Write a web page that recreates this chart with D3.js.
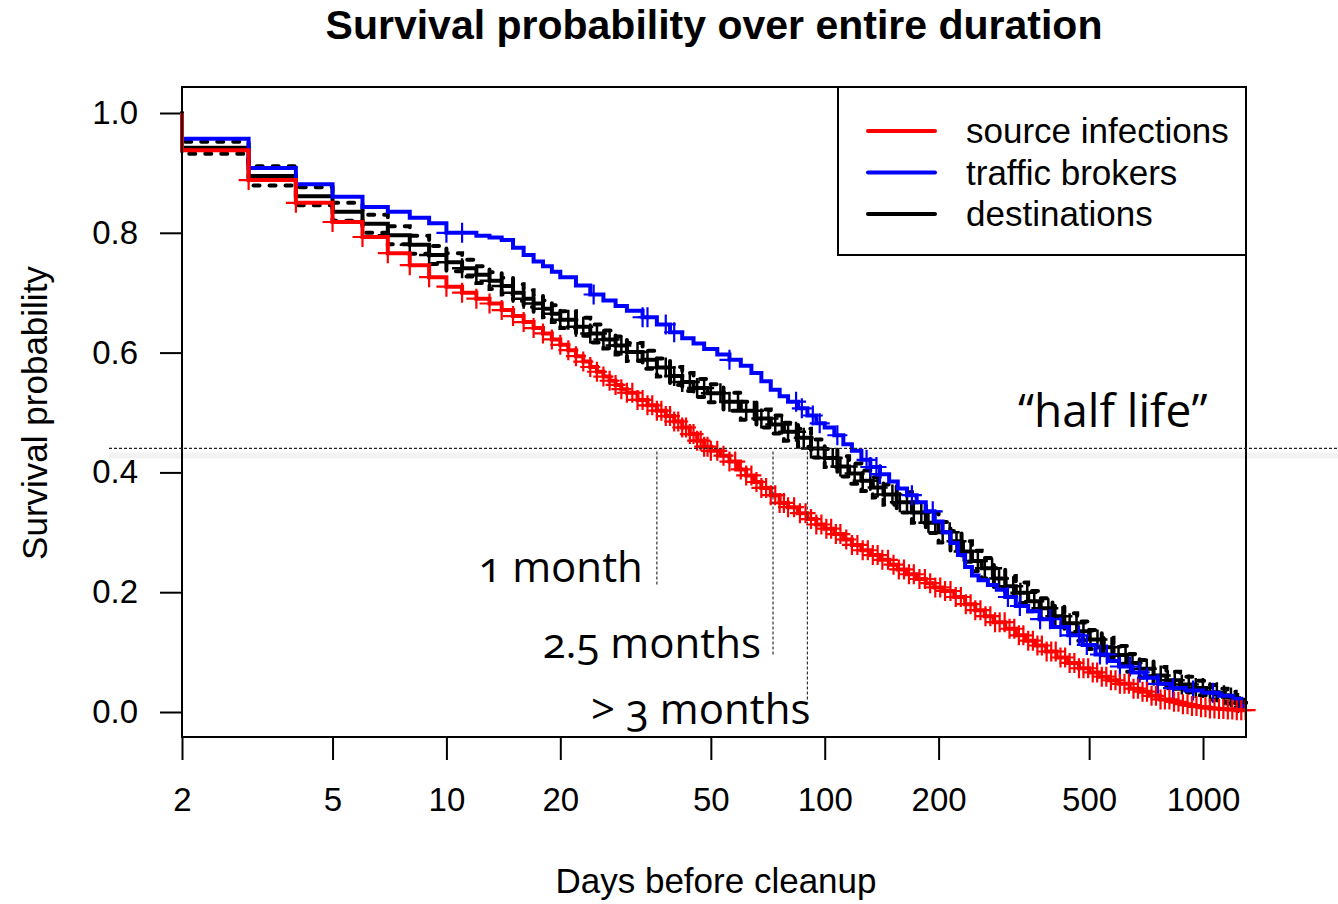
<!DOCTYPE html>
<html>
<head>
<meta charset="utf-8">
<script src="https://cdn.jsdelivr.net/npm/d3@7"></script>
<style>
  body { margin: 0; background: #fff; }
  svg text { font-family: "Liberation Sans", Arial, Helvetica, sans-serif; fill: #000; }
  .note { font-family: "Open Sans", "DejaVu Sans", sans-serif; font-variant-numeric: oldstyle-nums; }
</style>
</head>
<body>
<svg id="chart" width="1338" height="904"></svg>
<script>
// Kaplan-Meier estimates (day, survival)
const srcDays = [2,3,4,5,6,7,8,9,10,11,12,13,14,15,16,17,18,19,20,21,22,23,24,25,26,27,28,29,30,
  32,34,36,38,40,42,44,46,48,50,53,56,59,62,65,68,72,76,80,85,90,95,100,
  106,112,118,125,132,140,148,156,165,175,185,195,205,
  220,235,250,265,280,300,320,340,360,385,410,440,470,500,530,560,600,640,680,720,770,820,870,920,980,1040,1100,1160,1220,1280]
const srcSurv = [.938,.888,.850,.818,.793,.766,.746,.726,.710,.700,.690,.682,.671,.661,.651,.641,.632,.622,.613,.604,.594,.585,.576,.568,.560,.553,.546,.539,.533,
  .521,.512,.503,.494,.485,.475,.464,.453,.443,.436,.428,.418,.405,.395,.384,.374,.362,.349,.342,.332,.322,.313,.306,
  .297,.288,.279,.270,.262,.254,.246,.238,.230,.222,.215,.208,.202,
  .192,.180,.170,.160,.150,.139,.128,.119,.111,.101,.091,.082,.073,.066,.059,.053,.047,.039,.034,.027,.021,.017,.013,.010,.008,.006,.005,.004,.003,.003]
// censored times for source infections (very dense after ~3 weeks)
const srcCensor = [3,4,5,6,7,8,9,10,11,12,13,14,15,16,17,18,19,20,21,22,23,24,25,26,27,28,29,30,31,32,33,34,35,36,37,38,39,40,41,42,43,44,45,46,47,48,49,50,
  52,54,56,58,60,62,64,66,68,70,72,74,76,78,80,83,86,89,92,95,98,101,104,107,110,114,118,122,126,130,134,138,142,147,152,157,162,167,172,178,184,190,196,202,208,
  215,222,229,236,243,250,258,266,274,282,290,299,308,317,326,335,345,355,365,375,386,397,408,420,432,444,457,470,483,497,511,525,540,555,571,587,603,620,637,655,673,692,711,
  731,751,772,793,815,838,861,885,910,935,961,988,1015,1043,1072,1102,1132,1163,1195,1228,1262,1296]

const brkDays = [2,3,4,5,6,7,8,9,10,11,12,13,14,15,16,17,18,19,20,22,24,26,28,30,
  33,36,39,42,45,48,52,56,60,64,68,72,76,80,85,90,95,100,
  106,112,118,125,132,140,148,156,165,175,185,195,205,215,225,235,245,255,270,285,300,320,345,370,400,440,480,520,560,600,650,700,760,820,900,1000,1100,1200,1260]
const brkSurv = [.957,.908,.881,.860,.843,.835,.825,.816,.800,.800,.795,.792,.788,.775,.763,.752,.744,.735,.726,.712,.697,.687,.678,.670,
  .659,.647,.634,.624,.615,.606,.597,.588,.578,.566,.552,.538,.527,.518,.507,.495,.482,.475,
  .462,.447,.436,.421,.409,.397,.385,.373,.362,.350,.335,.318,.300,.282,.262,.242,.228,.220,.212,.204,.192,.177,.168,.155,.142,.128,.112,.096,.085,.076,.066,.057,.047,.040,.036,.032,.027,.022,.010]
const brkCensor = [10,11,24.5,33,34,38,40,56,84,87,93,97,108,129,132,137,140,170,193,305,328,371,394,420,445,470,493,534,557,603,641,680,711,760,833,941,1063]

const dstDays = [2,3,4,5,6,7,8,9,10,11,12,13,14,15,16,17,18,19,20,22,24,26,28,30,
  33,36,39,42,45,49,54,60,66,72,78,85,92,100,
  108,116,125,134,143,155,170,185,200,215,230,245,260,280,300,320,345,370,400,430,465,500,540,580,630,680,740,800,870,940,1020,1100,1160,1220,1280]
const dstSurv = [.942,.895,.861,.835,.815,.796,.780,.763,.751,.741,.730,.720,.711,.700,.690,.682,.673,.665,.655,.643,.632,.622,.612,.601,
  .588,.575,.561,.551,.541,.532,.518,.503,.490,.480,.468,.458,.440,.424,
  .410,.398,.386,.375,.363,.350,.333,.316,.300,.285,.268,.252,.240,.223,.210,.199,.185,.173,.160,.148,.135,.121,.108,.095,.082,.072,.061,.053,.046,.040,.033,.028,.024,.015,.008]
// half width of the dashed confidence band around destinations
const dstCI = [.010,.016,.015,.015,.015,.015,.015,.015,.015,.014,.014,.014,.014,.014,.014,.014,.014,.014,.014,
  .015,.015,.015,.015,.015,.015,.015,.015,.015,.015,.015,.015,.015,.015,.015,.015,.015,.015,.015,
  .017,.017,.017,.017,.017,.017,.017,.017,.017,.017,.017,.017,.017,.017,.017,.017,.017,.017,.017,.017,
  .016,.016,.016,.015,.015,.015,.014,.014,.013,.012,.012,.011,.010,.009,.008]
const dstCensor = [7,8,9,10,11,12,13,14,15,16,17,18,19,20,21,22,23,24,25,26,27,28,29,30,32,34,36,38,40,42,44,46,48,50,53,56,59,62,65,68,71,74,77,80,84,88,92,96,100,
  105,110,115,120,126,132,138,144,151,158,165,172,180,188,196,205,214,223,233,243,254,265,277,289,302,315,329,343,358,374,390,407,425,444,463,483,504,526,549,573,598,
  624,651,680,710,741,773,807,842,879,917,957,999,1043,1088,1136,1185,1237]

const endDay = 1300
const xTicks = [2,5,10,20,50,100,200,500,1000]
const yTicks = [0,0.2,0.4,0.6,0.8,1]
const legendLabels = ['source infections','traffic brokers','destinations']
const legendColors = ['#ff0000','#0000ff','#000000']

const halfLife = 0.44
const noteDays = [36,73,90]
const noteLabels = ['1 month','2.5 months','> 3 months']

const svg = d3.select('#chart')
const x = d3.scaleLog().domain([2,1299]).range([182,1246])
const y = d3.scaleLinear().domain([0,1]).range([712,113])

// title
svg.append('text')
  .attr('x',714).attr('y',39)
  .attr('text-anchor','middle')
  .attr('font-size',41).attr('font-weight','bold')
  .text('Survival probability over entire duration')

// axes
let ya = svg.append('g')
  .attr('transform','translate(182,0)')
  .call(d3.axisLeft(y).tickValues(yTicks).tickFormat(d3.format('.1f')).tickSize(22).tickPadding(22))
ya.select('.domain').remove()
ya.selectAll('line').attr('stroke','#000').attr('stroke-width',2)
ya.selectAll('text').attr('font-size',33).attr('font-family','"Liberation Sans", Arial, sans-serif')

let xa = svg.append('g')
  .attr('transform','translate(0,737)')
  .call(d3.axisBottom(x).tickValues(xTicks).tickFormat(d3.format('d')).tickSize(23).tickPadding(28))
xa.select('.domain').remove()
xa.selectAll('line').attr('stroke','#000').attr('stroke-width',2)
xa.selectAll('text').attr('font-size',33).attr('font-family','"Liberation Sans", Arial, sans-serif')

svg.append('text')
  .attr('x',716).attr('y',893)
  .attr('text-anchor','middle').attr('font-size',35)
  .text('Days before cleanup')

svg.append('text')
  .attr('transform','translate(47,413) rotate(-90)')
  .attr('text-anchor','middle').attr('font-size',35)
  .text('Survival probability')

// curves
let step = d3.line().x(d => x(d[0])).y(d => y(d[1])).curve(d3.curveStepAfter)
let stepPts = (days, surv) => {
  let pts = [[days[0],1]]
  days.forEach((d,i) => pts.push([d,surv[i]]))
  pts.push([endDay, surv[surv.length-1]])
  return pts
}
let survAt = (days, surv, t) => {
  let i = d3.bisectRight(days, t) - 1
  return i < 0 ? 1 : surv[i]
}
let cross = (g, pts, color, w) => {
  g.append('g').selectAll('path')
    .data(pts)
    .enter()
    .append('path')
    .attr('d', d => `M${x(d[0])-10},${y(d[1])}h20M${x(d[0])},${y(d[1])-10}v20`)
    .attr('stroke',color).attr('stroke-width',w).attr('fill','none')
}

let plot = svg.append('g')

// destinations with confidence band
let lo = dstSurv.map((s,i) => s - dstCI[i])
let hi = dstSurv.map((s,i) => s + dstCI[i])
;[lo,hi].forEach(b => {
  plot.append('path')
    .attr('d', step(stepPts(dstDays,b)))
    .attr('fill','none').attr('stroke','#000').attr('stroke-width',4)
    .attr('stroke-dasharray','6,10').attr('stroke-linecap','round')
})
plot.append('path')
  .attr('d', step(stepPts(dstDays,dstSurv)))
  .attr('fill','none').attr('stroke','#000').attr('stroke-width',4)
cross(plot, dstCensor.map(d => [d, survAt(dstDays,dstSurv,d)]), '#000', 2.5)

// traffic brokers
plot.append('path')
  .attr('d', step(stepPts(brkDays,brkSurv)))
  .attr('fill','none').attr('stroke','#0000ff').attr('stroke-width',4)
cross(plot, brkCensor.map(d => [d, survAt(brkDays,brkSurv,d)]), '#0000ff', 2.2)

// source infections
plot.append('path')
  .attr('d', step(stepPts(srcDays,srcSurv)))
  .attr('fill','none').attr('stroke','#ff0000').attr('stroke-width',4)
cross(plot, srcCensor.map(d => [d, survAt(srcDays,srcSurv,d)]), '#ff0000', 2.2)

// box
svg.append('rect')
  .attr('x',182).attr('y',87).attr('width',1064).attr('height',650)
  .attr('fill','none').attr('stroke','#000').attr('stroke-width',2)

// legend
let lg = svg.append('g')
lg.append('rect')
  .attr('x',838).attr('y',87).attr('width',408).attr('height',168)
  .attr('fill','#fff').attr('stroke','#000').attr('stroke-width',2)
lg.selectAll('line')
  .data(legendLabels)
  .enter()
  .append('line')
  .attr('x1',868).attr('x2',935)
  .attr('y1',(d,i) => 131 + i*41.5).attr('y2',(d,i) => 131 + i*41.5)
  .attr('stroke',(d,i) => legendColors[i]).attr('stroke-width',4).attr('stroke-linecap','round')
lg.selectAll('text')
  .data(legendLabels)
  .enter()
  .append('text')
  .attr('x',966).attr('y',(d,i) => 143 + i*41.5)
  .attr('font-size',35)
  .text(d => d)

// half life annotation
let ann = svg.append('g')
ann.append('line')
  .attr('x1',109).attr('x2',1338).attr('y1',y(halfLife)+7).attr('y2',y(halfLife)+7)
  .attr('stroke','#000').attr('stroke-opacity',0.05).attr('stroke-width',6)
ann.append('line')
  .attr('x1',109).attr('x2',1338).attr('y1',y(halfLife)).attr('y2',y(halfLife))
  .attr('stroke','#222').attr('stroke-width',1.2).attr('stroke-dasharray','3,2')
ann.append('text')
  .attr('class','note')
  .attr('x',1018).attr('y',427)
  .attr('font-size',46)
  .text('\u201chalf life\u201d')

let noteBottom = [585,655,700]
let noteBase = [582,658,724]
let noteRight = [-14,-12,3]
noteDays.forEach((d,i) => {
  ann.append('line')
    .attr('x1',x(d)).attr('x2',x(d))
    .attr('y1',y(halfLife)+3).attr('y2',noteBottom[i])
    .attr('stroke','#333').attr('stroke-width',1.2).attr('stroke-dasharray','3,2')
  ann.append('text')
    .attr('class','note')
    .attr('x',x(d) + noteRight[i]).attr('y',noteBase[i])
    .attr('text-anchor','end')
    .attr('font-size',42)
    .text(noteLabels[i])
})
</script>
</body>
</html>
